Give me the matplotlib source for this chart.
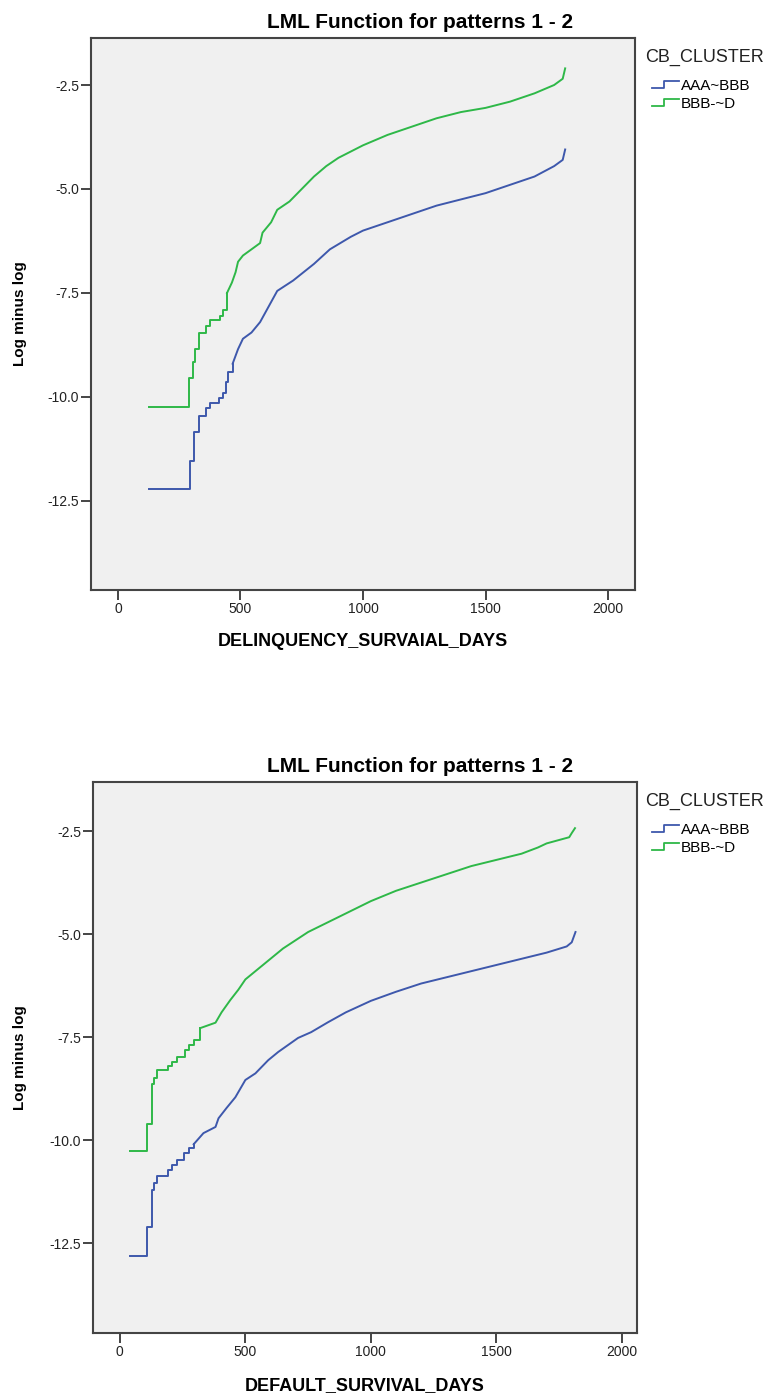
import matplotlib
matplotlib.use("Agg")
import matplotlib.pyplot as plt
from matplotlib.legend_handler import HandlerBase
from matplotlib.lines import Line2D
from matplotlib.ticker import FixedLocator, FormatStrFormatter

plt.rcParams["font.family"] = ["Liberation Sans", "DejaVu Sans"]
plt.rcParams["axes.unicode_minus"] = False

TITLE = "LML Function for patterns 1 - 2"
LEGEND_TITLE = "CB_CLUSTER"
GROUPS = ["AAA~BBB", "BBB-~D"]
COLORS = ["#3E58AC", "#2EB848"]
Y_TICKS = [-2.5, -5.0, -7.5, -10.0, -12.5]
X_TICKS = [0, 500, 1000, 1500, 2000]

# panel 1 : delinquency
DELQ_XLABEL = "DELINQUENCY_SURVAIAL_DAYS"
delq_aaa_x = [125, 294, 312, 330, 360, 375, 413, 428, 440, 449, 468, 490, 510, 545, 580, 608,
              650, 715, 800, 865, 950, 1000, 1100, 1200, 1300, 1400, 1500, 1600, 1700, 1780, 1815, 1825]
delq_aaa_y = [-12.2, -11.55, -10.85, -10.45, -10.27, -10.15, -10.03, -9.9, -9.65, -9.4, -9.2, -8.85,
              -8.6, -8.45, -8.2, -7.9, -7.45, -7.2, -6.8, -6.45, -6.15, -6.0, -5.8, -5.6, -5.4, -5.25,
              -5.1, -4.9, -4.7, -4.45, -4.3, -4.05]
delq_bbb_x = [125, 290, 305, 315, 330, 360, 375, 415, 430, 445, 465, 480, 490, 510, 545, 580, 590,
              625, 650, 700, 750, 800, 850, 900, 950, 1000, 1100, 1200, 1300, 1400, 1500, 1600, 1700,
              1780, 1815, 1825]
delq_bbb_y = [-10.25, -9.55, -9.15, -8.85, -8.45, -8.3, -8.15, -8.05, -7.9, -7.5, -7.25, -7.0, -6.75,
              -6.6, -6.45, -6.3, -6.05, -5.8, -5.5, -5.3, -5.0, -4.7, -4.45, -4.25, -4.1, -3.95, -3.7,
              -3.5, -3.3, -3.15, -3.05, -2.9, -2.7, -2.5, -2.35, -2.1]

# panel 2 : default
DEF_XLABEL = "DEFAULT_SURVIVAL_DAYS"
def_aaa_x = [40, 107, 127, 135, 147, 190, 206, 226, 254, 274, 294, 333, 381, 393, 425, 460, 500, 540,
             591, 631, 710, 762, 829, 900, 1000, 1100, 1200, 1300, 1400, 1500, 1600, 1700, 1780, 1800, 1815]
def_aaa_y = [-12.82, -12.1, -11.2, -11.05, -10.87, -10.73, -10.6, -10.49, -10.32, -10.2, -10.1, -9.83,
             -9.68, -9.47, -9.22, -8.96, -8.54, -8.38, -8.06, -7.86, -7.52, -7.38, -7.14, -6.9, -6.62,
             -6.4, -6.2, -6.05, -5.9, -5.75, -5.6, -5.45, -5.3, -5.2, -4.95]
def_bbb_x = [40, 107, 127, 135, 147, 190, 206, 226, 258, 274, 294, 321, 381, 405, 440, 472, 500, 550,
             600, 650, 700, 750, 800, 900, 1000, 1100, 1200, 1300, 1400, 1500, 1600, 1665, 1700, 1790, 1800, 1813]
def_bbb_y = [-10.27, -9.6, -8.65, -8.5, -8.3, -8.2, -8.1, -7.98, -7.82, -7.7, -7.56, -7.28, -7.15, -6.9,
             -6.6, -6.35, -6.1, -5.85, -5.6, -5.35, -5.15, -4.95, -4.8, -4.5, -4.2, -3.95, -3.75, -3.55,
             -3.35, -3.2, -3.05, -2.9, -2.8, -2.65, -2.55, -2.43]

W, H = 783, 1398


class StepHandler(HandlerBase):
    # petit symbole en escalier comme dans la legende SPSS
    def create_artists(self, legend, orig_handle, xdescent, ydescent, width, height, fontsize, trans):
        x0 = -xdescent
        y0 = -ydescent
        xs = [x0, x0 + width * 0.45, x0 + width * 0.45, x0 + width]
        ys = [y0 + height * 0.15, y0 + height * 0.15, y0 + height * 0.8, y0 + height * 0.8]
        line = Line2D(xs, ys, color=orig_handle.get_color(), lw=1.3, transform=trans)
        return [line]


def draw_curve(ax, x, y, color, n_step):
    # debut en escalier, fin quasi continue
    ax.plot(x[:n_step + 1], y[:n_step + 1], drawstyle="steps-post", color=color, lw=1.4)
    ax.plot(x[n_step:], y[n_step:], color=color, lw=1.4)


def make_panel(fig, rect, xlim, ylim, xlabel, series, title_y, xlabel_y, legend_y):
    ax = fig.add_axes(rect)
    ax.set_facecolor("#F0F0F0")
    for x, y, color, n_step in series:
        draw_curve(ax, x, y, color, n_step)
    ax.set_xlim(*xlim)
    ax.set_ylim(*ylim)
    ax.xaxis.set_major_locator(FixedLocator(X_TICKS))
    ax.yaxis.set_major_locator(FixedLocator(Y_TICKS))
    ax.yaxis.set_major_formatter(FormatStrFormatter("%.1f"))
    ax.tick_params(length=7, width=1.4, color="#444444", labelsize=10, labelcolor="#222222", pad=1.5)
    for sp in ax.spines.values():
        sp.set_color("#444444")
        sp.set_linewidth(1.5)

    left, bottom, width, height = rect
    fig.text(420 / W, 1 - title_y / H, TITLE, ha="center", va="center", fontsize=15, fontweight="bold")
    fig.text((left + width / 2), 1 - xlabel_y / H, xlabel, ha="center", va="center",
             fontsize=13, fontweight="bold")
    fig.text(20 / W, bottom + height / 2, "Log minus log", rotation=90, ha="center", va="center",
             fontsize=11, fontweight="bold")

    # legende : titre a part, puis les deux entrees
    fig.text(645 / W, 1 - legend_y / H, LEGEND_TITLE, ha="left", va="center", fontsize=13, color="#222222")
    handles = [Line2D([], [], color=c) for c in COLORS]
    ax.legend(handles, GROUPS, handler_map={Line2D: StepHandler()}, loc="upper left",
              bbox_to_anchor=(652 / W, 1 - (legend_y + 22) / H), bbox_transform=fig.transFigure,
              frameon=False, fontsize=11, handlelength=1.75, handletextpad=0.15, borderpad=0,
              labelspacing=0.25, borderaxespad=0)
    return ax


fig = plt.figure(figsize=(W / 100, H / 100), dpi=100)

make_panel(fig, [91 / W, 1 - 590 / H, 544 / W, 552 / H], (-110, 2110), (-14.64, -1.37), DELQ_XLABEL,
           [(delq_aaa_x, delq_aaa_y, COLORS[0], 10), (delq_bbb_x, delq_bbb_y, COLORS[1], 9)],
           title_y=22, xlabel_y=642, legend_y=57)

make_panel(fig, [93 / W, 1 - 1333 / H, 544 / W, 551 / H], (-107, 2060), (-14.68, -1.31), DEF_XLABEL,
           [(def_aaa_x, def_aaa_y, COLORS[0], 10), (def_bbb_x, def_bbb_y, COLORS[1], 11)],
           title_y=766, xlabel_y=1386, legend_y=801)

fig.savefig("out.png", dpi=100)
